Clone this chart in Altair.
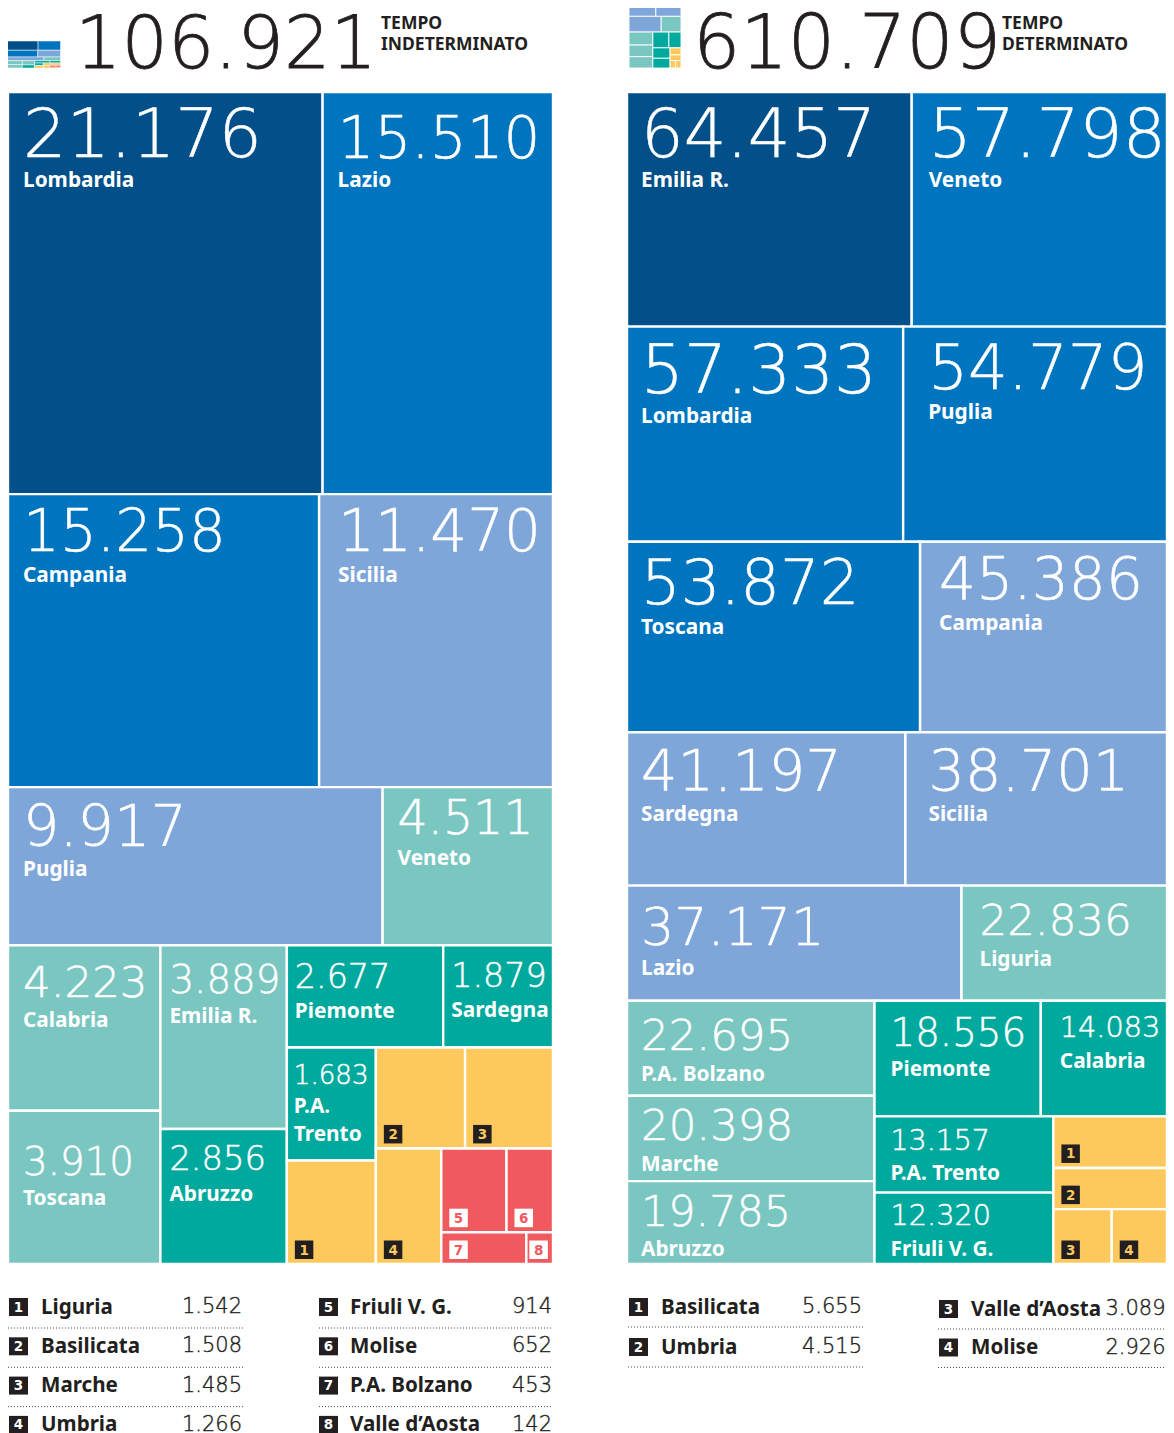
import altair as alt
import pandas as pd

# ---------- data ----------
REG_A = ["Lombardia","Lazio","Campania","Sicilia","Puglia","Veneto","Calabria","Toscana",
         "Emilia R.","Abruzzo","Piemonte","Sardegna","P.A. Trento","Liguria","Basilicata","Marche",
         "Umbria","Friuli V. G.","Molise","P.A. Bolzano","Valle d’Aosta"]
VAL_A = [21176,15510,15258,11470,9917,4511,4223,3910,3889,2856,2677,1879,1683,1542,1508,1485,1266,914,652,453,142]
TIER_A = ["d","b","b","l","l","t","t","t","t","g","g","g","g","y","y","y","y","r","r","r","r"]
REG_B = ["Emilia R.","Veneto","Lombardia","Puglia","Toscana","Campania","Sardegna","Sicilia","Lazio","Liguria",
         "P.A. Bolzano","Marche","Abruzzo","Piemonte","Calabria","P.A. Trento","Friuli V. G.",
         "Basilicata","Umbria","Valle d’Aosta","Molise"]
VAL_B = [64457,57798,57333,54779,53872,45386,41197,38701,37171,22836,22695,20398,19785,18556,14083,13157,12320,5655,4515,3089,2926]
TIER_B = ["d","b","b","b","b","l","l","l","l","t","t","t","t","g","g","g","g","y","y","y","y"]
TOTALS = ["106.921","610.709"]

# ---------- treemap structure: (direction, children), leaves are indexes into the value lists ----------
TREE_A = ("v",[("h",[0,1]),("h",[2,3]),("h",[4,5]),
    ("h",[("v",[6,7]),("v",[8,9]),
          ("v",[("h",[10,11]),
                ("h",[("v",[12,13]),
                      ("v",[("h",[14,15]),
                            ("h",[16,("v",[("h",[17,18]),("h",[19,20])])])])])])])])
TREE_B = ("v",[("h",[0,1]),("h",[2,3]),("h",[4,5]),("h",[6,7]),("h",[8,9]),
    ("h",[("v",[10,11,12]),
          ("v",[("h",[13,14]),
                ("h",[("v",[15,16]),
                      ("v",[17,18,("h",[19,20])])])])])])

# ---------- style / placement tables ----------
COLORS = {"d":"#024f89","b":"#0075bf","l":"#7fa6d9","t":"#7ac6c1","g":"#00a99d","y":"#fec95c","r":"#f05a5e"}
INK = "#231f20"
NUMF = "DejaVu Sans"
NUMW = 200
LABF = "Noto Sans"
# per leaf: label dx, number baseline dy, label baseline dy, number width
STY_A = [(15,65,95,231),(15,66,95,196),(15,57,88,196),(19,57,88,196),(15,59,89,158),(15,47,78,131),
         (15,52,82,120),(15,64,94,107),(9,48,78,107),(9,41,72,93),(8,43,73,92),(8,42,72,92),(7,36,65,72)]
STY_B = [(14,65,95,227),(17,65,95,229),(14,66,96,228),(25,62,92,212),(14,62,92,211),(19,57,88,197),
         (14,59,89,194),(23,59,89,194),(14,59,89,177),(18,49,80,147),(14,49,80,147),(14,44,75,147),(14,45,75,145),
         (16,45,75,131),(19,36,67,97),(16,34,64,96),(16,32,63,97)]
BADGE_A = {13:1,14:2,15:3,16:4,17:5,18:6,19:7,20:8}
BADGE_B = {17:1,18:2,19:3,20:4}
W, H = 1158, 1425


def layout(node, vals, box, out):
    x0, y0, x1, y1 = box
    if isinstance(node, int):
        out[node] = box
        return
    d, kids = node
    tot = [total(k, vals) for k in kids]
    s = sum(tot)
    pos = x0 if d == "h" else y0
    span = (x1 - x0) if d == "h" else (y1 - y0)
    for k, t in zip(kids, tot):
        nxt = pos + span * t / s
        layout(k, vals, (pos, y0, nxt, y1) if d == "h" else (x0, pos, x1, nxt), out)
        pos = nxt


def total(node, vals):
    return vals[node] if isinstance(node, int) else sum(total(k, vals) for k in node[1])


def fmt(v):
    return f"{v:,}".replace(",", ".")


rects, icons_a, icons_b, badges, nums, labels, bdig = [], [], [], [], [], [], []
for tree, vals, regs, tiers, sty, bmap, box, ibox, icons in [
    (TREE_A, VAL_A, REG_A, TIER_A, STY_A, BADGE_A, (8, 92, 553, 1264), (7.5, 41, 60.5, 68), icons_a),
    (TREE_B, VAL_B, REG_B, TIER_B, STY_B, BADGE_B, (627, 92, 1167, 1264), (629, -92, 681, 68), icons_b),
]:
    cells, mini = {}, {}
    layout(tree, vals, box, cells)
    layout(tree, vals, ibox, mini)
    for i, v in enumerate(vals):
        x0, y0, x1, y1 = cells[i]
        c = COLORS[tiers[i]]
        rects.append(dict(x=x0, x2=x1, y=y0, y2=y1, c=c))
        a, e, b, f = mini[i]
        icons.append(dict(x=a, x2=b, y=e, y2=f, c=c))
        if i < len(sty):
            dx, nb, lb, wd = sty[i]
            t = fmt(v)
            em = 3.38 if len(t) == 6 else 2.76
            nums.append(dict(x=x0 + dx, y=y0 + nb, t=t, s=wd / em, c="#ffffff"))
            if regs[i] == "P.A. Trento" and tree is TREE_A:
                labels.append(dict(x=x0 + dx, y=y0 + lb, t="P.A.", s=20.8, c="#ffffff"))
                labels.append(dict(x=x0 + dx, y=y0 + lb + 28, t="Trento", s=20.8, c="#ffffff"))
            else:
                labels.append(dict(x=x0 + dx, y=y0 + lb, t=regs[i], s=20.8, c="#ffffff"))
        if i in bmap:
            red = tiers[i] == "r"
            n = bmap[i]
            ox = 3 if (tree is TREE_A and n == 8) else 8
            bg = "#ffffff" if red else INK
            badges.append(dict(x=x0 + ox, x2=x0 + ox + 18.5, y=y1 - 5 - 18.5, y2=y1 - 5, c=bg))
            bdig.append(dict(x=x0 + ox + 9.25, y=y1 - 5 - 4.5, t=str(n), s=13.5, c=COLORS[tiers[i]]))

# ---------- legends ----------
rules, lnames, lvals = [], [], []
LEG = [
    (VAL_A, REG_A, BADGE_A, [1, 2, 3, 4], 9, 41, 242, 8, 244, 1313, 39.3, 15),
    (VAL_A, REG_A, BADGE_A, [5, 6, 7, 8], 319, 350, 552, 319, 552, 1313, 39.3, 15),
    (VAL_B, REG_B, BADGE_B, [1, 2], 629, 661, 862, 628, 864, 1313, 40, 14),
    (VAL_B, REG_B, BADGE_B, [3, 4], 939, 971, 1165.5, 938, 1166, 1315, 38.5, 14),
]
for vals, regs, bmap, ns, bx, nx, vx, rx0, rx1, base, step, rgap in LEG:
    inv = {n: i for i, n in bmap.items()}
    for r, n in enumerate(ns):
        i = inv[n]
        y = base + r * step
        badges.append(dict(x=bx, x2=bx + 19, y=y - 15, y2=y + 3, c=INK))
        bdig.append(dict(x=bx + 9.5, y=y - 1.5, t=str(n), s=13.5, c="#ffffff"))
        lnames.append(dict(x=nx, y=y + 0.5, t=regs[i], s=20.6, c=INK))
        lvals.append(dict(x=vx, y=y, t=fmt(vals[i]), s=21, c=INK))
        rules.append(dict(x=rx0, x2=rx1, y=y + rgap))

heads = [dict(x=75, y=68, t=TOTALS[0], s=73, c=INK), dict(x=693, y=68, t=TOTALS[1], s=74.5, c=INK)]
tags = [dict(x=381, y=29, t="TEMPO", s=17.5, c=INK), dict(x=381, y=50, t="INDETERMINATO", s=17.5, c=INK),
        dict(x=1002, y=29, t="TEMPO", s=17.5, c=INK), dict(x=1002, y=50, t="DETERMINATO", s=17.5, c=INK)]

X = alt.X("x:Q", scale=alt.Scale(domain=[8, 8 + W], range=[0, W], padding=0, nice=False, zero=False), axis=None)
Y = alt.Y("y:Q", scale=alt.Scale(domain=[8, 8 + H], range=[0, H], padding=0, nice=False, zero=False), axis=None)
COL = alt.Color("c:N", scale=None)


def boxes(rows, **kw):
    return alt.Chart(pd.DataFrame(rows)).mark_rect(**kw).encode(x=X, x2="x2:Q", y=Y, y2="y2:Q", color=COL)


def texts(rows, **kw):
    return alt.Chart(pd.DataFrame(rows)).mark_text(baseline="alphabetic", **kw).encode(
        x=X, y=Y, text="t:N", size=alt.Size("s:Q", scale=None), color=COL)


chart = alt.layer(
    boxes(rects, stroke="#ffffff", strokeWidth=2.4),
    boxes(icons_a, stroke="#ffffff", strokeWidth=0.5),
    boxes(icons_b, stroke="#ffffff", strokeWidth=0.9),
    boxes(badges),
    alt.Chart(pd.DataFrame(rules)).mark_rule(color="#4a4f55", strokeDash=[1, 2], strokeWidth=1).encode(x=X, x2="x2:Q", y=Y),
    texts(nums, align="left", font=NUMF, fontWeight=NUMW, stroke="#ffffff", strokeWidth=0.5),
    texts(labels, align="left", font=LABF, fontWeight="bold"),
    texts(bdig, align="center", font="DejaVu Sans", fontWeight="bold"),
    texts(lnames, align="left", font=LABF, fontWeight="bold"),
    texts(lvals, align="right", font=NUMF, fontWeight=NUMW, stroke=INK, strokeWidth=0.4),
    texts(heads, align="left", font=NUMF, fontWeight=NUMW, stroke=INK, strokeWidth=0.8),
    texts(tags, align="left", font=LABF, fontWeight="bold"),
).properties(width=W, height=H, padding=0, autosize=alt.AutoSizeParams(type="none")).configure_view(stroke=None)

chart.save("out.html", embed_options={"renderer": "svg", "actions": False})
